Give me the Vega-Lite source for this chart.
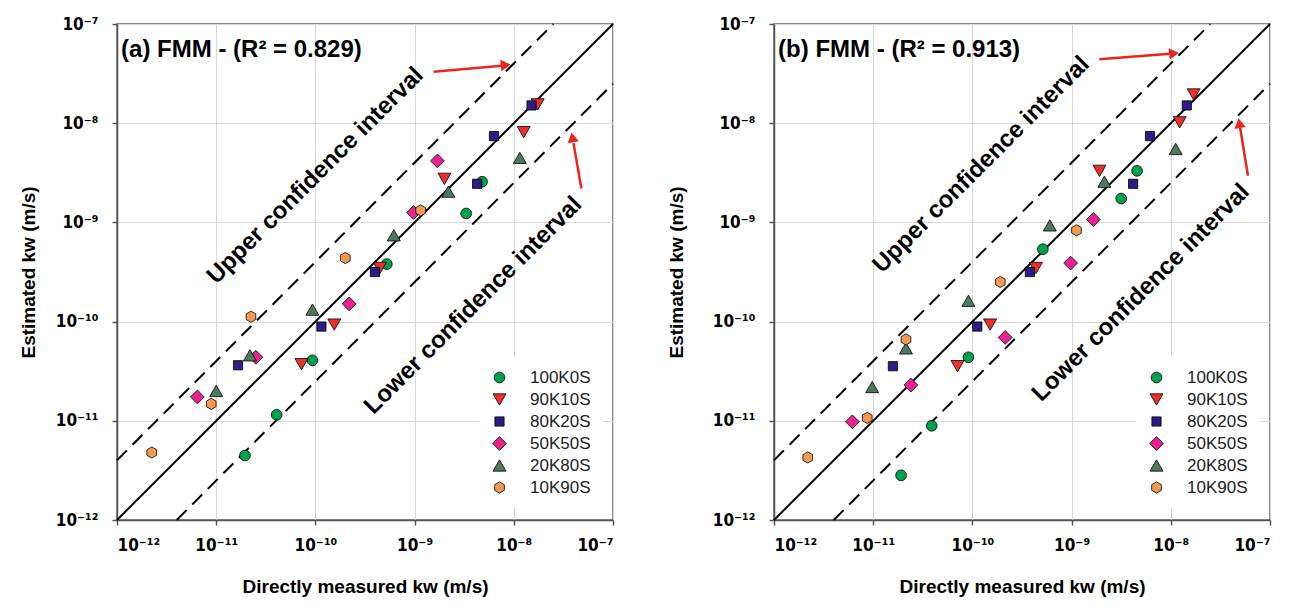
{
  "$schema": "https://vega.github.io/schema/vega-lite/v6.json",
  "background": "white",
  "padding": {"left": 18, "top": 14, "right": 2, "bottom": 2},
  "spacing": 48,
  "datasets": {
    "lines": [
      {"line": "fit", "x": 1e-12, "y": 1e-12}, {"line": "fit", "x": 1e-7, "y": 1e-7},
      {"line": "upper", "x": 1e-12, "y": 4e-12}, {"line": "upper", "x": 2.5e-8, "y": 1e-7},
      {"line": "lower", "x": 4e-12, "y": 1e-12}, {"line": "lower", "x": 1e-7, "y": 2.5e-8}
    ],
    "pa": [
      {"g": "100K0S", "x": 4.79e-9, "y": 2.57e-9},
      {"g": "100K0S", "x": 3.31e-9, "y": 1.23e-9},
      {"g": "100K0S", "x": 5.25e-10, "y": 3.80e-10},
      {"g": "100K0S", "x": 9.33e-11, "y": 4.07e-11},
      {"g": "100K0S", "x": 4.07e-11, "y": 1.15e-11},
      {"g": "100K0S", "x": 1.95e-11, "y": 4.47e-12},
      {"g": "90K10S", "x": 1.74e-8, "y": 1.55e-8},
      {"g": "90K10S", "x": 1.26e-8, "y": 8.13e-9},
      {"g": "90K10S", "x": 2.00e-9, "y": 2.75e-9},
      {"g": "90K10S", "x": 4.47e-10, "y": 3.47e-10},
      {"g": "90K10S", "x": 1.55e-10, "y": 9.33e-11},
      {"g": "90K10S", "x": 7.24e-11, "y": 3.72e-11},
      {"g": "80K20S", "x": 1.51e-8, "y": 1.51e-8},
      {"g": "80K20S", "x": 6.31e-9, "y": 7.41e-9},
      {"g": "80K20S", "x": 4.27e-9, "y": 2.45e-9},
      {"g": "80K20S", "x": 3.98e-10, "y": 3.16e-10},
      {"g": "80K20S", "x": 1.15e-10, "y": 8.91e-11},
      {"g": "80K20S", "x": 1.66e-11, "y": 3.63e-11},
      {"g": "50K50S", "x": 1.70e-9, "y": 4.17e-9},
      {"g": "50K50S", "x": 9.77e-10, "y": 1.26e-9},
      {"g": "50K50S", "x": 2.19e-10, "y": 1.51e-10},
      {"g": "50K50S", "x": 2.51e-11, "y": 4.37e-11},
      {"g": "50K50S", "x": 6.46e-12, "y": 1.74e-11},
      {"g": "20K80S", "x": 1.15e-8, "y": 4.47e-9},
      {"g": "20K80S", "x": 2.19e-9, "y": 2.04e-9},
      {"g": "20K80S", "x": 6.17e-10, "y": 7.41e-10},
      {"g": "20K80S", "x": 9.33e-11, "y": 1.32e-10},
      {"g": "20K80S", "x": 2.19e-11, "y": 4.57e-11},
      {"g": "20K80S", "x": 1.0e-11, "y": 2.00e-11},
      {"g": "10K90S", "x": 1.15e-9, "y": 1.32e-9},
      {"g": "10K90S", "x": 2.00e-10, "y": 4.37e-10},
      {"g": "10K90S", "x": 2.24e-11, "y": 1.12e-10},
      {"g": "10K90S", "x": 8.91e-12, "y": 1.48e-11},
      {"g": "10K90S", "x": 2.24e-12, "y": 4.79e-12}
    ],
    "pb": [
      {"g": "100K0S", "x": 4.57e-9, "y": 3.31e-9},
      {"g": "100K0S", "x": 3.16e-9, "y": 1.74e-9},
      {"g": "100K0S", "x": 5.13e-10, "y": 5.37e-10},
      {"g": "100K0S", "x": 9.12e-11, "y": 4.37e-11},
      {"g": "100K0S", "x": 3.89e-11, "y": 8.91e-12},
      {"g": "100K0S", "x": 1.91e-11, "y": 2.82e-12},
      {"g": "90K10S", "x": 1.70e-8, "y": 1.95e-8},
      {"g": "90K10S", "x": 1.23e-8, "y": 1.02e-8},
      {"g": "90K10S", "x": 1.91e-9, "y": 3.31e-9},
      {"g": "90K10S", "x": 4.37e-10, "y": 3.47e-10},
      {"g": "90K10S", "x": 1.51e-10, "y": 9.33e-11},
      {"g": "90K10S", "x": 7.08e-11, "y": 3.55e-11},
      {"g": "80K20S", "x": 1.45e-8, "y": 1.51e-8},
      {"g": "80K20S", "x": 6.17e-9, "y": 7.41e-9},
      {"g": "80K20S", "x": 4.17e-9, "y": 2.45e-9},
      {"g": "80K20S", "x": 3.80e-10, "y": 3.16e-10},
      {"g": "80K20S", "x": 1.12e-10, "y": 8.91e-11},
      {"g": "80K20S", "x": 1.58e-11, "y": 3.55e-11},
      {"g": "50K50S", "x": 1.66e-9, "y": 1.07e-9},
      {"g": "50K50S", "x": 9.77e-10, "y": 3.89e-10},
      {"g": "50K50S", "x": 2.14e-10, "y": 6.92e-11},
      {"g": "50K50S", "x": 2.40e-11, "y": 2.29e-11},
      {"g": "50K50S", "x": 6.17e-12, "y": 9.77e-12},
      {"g": "20K80S", "x": 1.12e-8, "y": 5.50e-9},
      {"g": "20K80S", "x": 2.14e-9, "y": 2.57e-9},
      {"g": "20K80S", "x": 6.03e-10, "y": 9.33e-10},
      {"g": "20K80S", "x": 9.12e-11, "y": 1.62e-10},
      {"g": "20K80S", "x": 2.14e-11, "y": 5.37e-11},
      {"g": "20K80S", "x": 9.77e-12, "y": 2.19e-11},
      {"g": "10K90S", "x": 1.12e-9, "y": 8.32e-10},
      {"g": "10K90S", "x": 1.91e-10, "y": 2.51e-10},
      {"g": "10K90S", "x": 2.14e-11, "y": 6.61e-11},
      {"g": "10K90S", "x": 8.71e-12, "y": 1.07e-11},
      {"g": "10K90S", "x": 2.19e-12, "y": 4.27e-12}
    ],
    "notes_a": [
      {"x": 1.0e-10, "y": 2.95e-9, "t": "Upper confidence interval"},
      {"x": 3.9e-9, "y": 1.45e-10, "t": "Lower confidence interval"}
    ],
    "notes_b": [
      {"x": 1.23e-10, "y": 3.8e-9, "t": "Upper confidence interval"},
      {"x": 5.0e-9, "y": 1.95e-10, "t": "Lower confidence interval"}
    ],
    "title_a": [{"x": 1.1e-12, "y": 5.5e-8, "t": "(a) FMM - (R² = 0.829)"}],
    "title_b": [{"x": 1.1e-12, "y": 5.5e-8, "t": "(b) FMM - (R² = 0.913)"}],
    "arrows_a": [
      {"x": 1.55e-9, "y": 3.3e-8, "x2": 7.5e-9, "y2": 3.8e-8},
      {"x": 4.8e-8, "y": 2.2e-9, "x2": 4.0e-8, "y2": 6.3e-9}
    ],
    "heads_a": [
      {"x": 8.3e-9, "y": 3.85e-8, "k": "right"},
      {"x": 3.9e-8, "y": 7.2e-9, "k": "up"}
    ],
    "arrows_b": [
      {"x": 1.9e-9, "y": 4.4e-8, "x2": 9.8e-9, "y2": 5.0e-8},
      {"x": 6.0e-8, "y": 2.95e-9, "x2": 5.0e-8, "y2": 9.0e-9}
    ],
    "heads_b": [
      {"x": 1.08e-8, "y": 5.05e-8, "k": "right"},
      {"x": 4.9e-8, "y": 1.0e-8, "k": "up"}
    ]
  },
  "hconcat": [
    {
      "width": 496,
      "height": 496,
      "encoding": {
        "x": {"field": "x", "type": "quantitative", "scale": {"type": "log", "domain": [1e-12, 1e-7], "nice": false}, "axis": {"title": "Directly measured kw (m/s)", "values": [1e-12, 1e-11, 1e-10, 1e-9, 1e-8, 1e-7], "labelExpr": "datum.value < 5e-12 ? '10⁻¹²' : datum.value < 5e-11 ? '10⁻¹¹' : datum.value < 5e-10 ? '10⁻¹⁰' : datum.value < 5e-9 ? '10⁻⁹' : datum.value < 5e-8 ? '10⁻⁸' : '10⁻⁷'", "labelPadding": 12, "titlePadding": 24}},
        "y": {"field": "y", "type": "quantitative", "scale": {"type": "log", "domain": [1e-12, 1e-7], "nice": false}, "axis": {"title": "Estimated kw (m/s)", "values": [1e-12, 1e-11, 1e-10, 1e-9, 1e-8, 1e-7], "labelExpr": "datum.value < 5e-12 ? '10⁻¹²' : datum.value < 5e-11 ? '10⁻¹¹' : datum.value < 5e-10 ? '10⁻¹⁰' : datum.value < 5e-9 ? '10⁻⁹' : datum.value < 5e-8 ? '10⁻⁸' : '10⁻⁷'", "labelPadding": 14, "titlePadding": 17}}
      },
      "layer": [
        {
          "data": {"name": "lines"},
          "mark": {"type": "line", "color": "black", "strokeWidth": 2},
          "encoding": {
            "detail": {"field": "line"},
            "strokeDash": {"field": "line", "type": "nominal", "scale": {"domain": ["fit", "upper", "lower"], "range": [[1, 0], [14, 8], [14, 8]]}, "legend": null}
          }
        },
        {
          "data": {"name": "arrows_a"},
          "mark": {"type": "rule", "color": "#e8261f", "strokeWidth": 2.5},
          "encoding": {"x2": {"field": "x2"}, "y2": {"field": "y2"}}
        },
        {
          "data": {"name": "heads_a"},
          "transform": [{"filter": "datum.k == 'right'"}],
          "mark": {"type": "point", "shape": "triangle-right", "filled": true, "color": "#e8261f", "size": 130, "opacity": 1, "angle": -5},
          "encoding": {}
        },
        {
          "data": {"name": "heads_a"},
          "transform": [{"filter": "datum.k == 'up'"}],
          "mark": {"type": "point", "shape": "triangle-up", "filled": true, "color": "#e8261f", "size": 130, "opacity": 1, "angle": -10},
          "encoding": {}
        },
        {
          "data": {"name": "notes_a"},
          "mark": {"type": "text", "angle": -45, "font": "Liberation Sans", "fontWeight": "bold", "fontSize": 24, "color": "black", "align": "center", "baseline": "middle"},
          "encoding": {"text": {"field": "t"}}
        },
        {
          "data": {"name": "title_a"},
          "mark": {"type": "text", "font": "Liberation Sans", "fontWeight": "bold", "fontSize": 24, "color": "black", "align": "left", "baseline": "middle"},
          "encoding": {"text": {"field": "t"}}
        },
        {
          "data": {"name": "pa"},
          "mark": {"type": "point", "filled": true, "opacity": 1, "stroke": "black", "strokeWidth": 0.8},
          "encoding": {
            "color": {"field": "g", "type": "nominal", "scale": {"domain": ["100K0S", "90K10S", "80K20S", "50K50S", "20K80S", "10K90S"], "range": ["#00a14b", "#e8322b", "#2e1c82", "#e6238e", "#4d7a5e", "#f49a55"]}, "legend": {"title": null, "orient": "none", "legendX": 362, "legendY": 333, "encode": {"symbols": {"update": {"stroke": {"value": "black"}, "strokeWidth": {"value": 0.8}}}}}},
            "shape": {"field": "g", "type": "nominal", "scale": {"domain": ["100K0S", "90K10S", "80K20S", "50K50S", "20K80S", "10K90S"], "range": ["circle", "triangle-down", "square", "diamond", "triangle-up", "M0,-1L0.866,-0.5L0.866,0.5L0,1L-0.866,0.5L-0.866,-0.5Z"]}, "legend": {"title": null, "orient": "none", "legendX": 362, "legendY": 333, "encode": {"symbols": {"update": {"stroke": {"value": "black"}, "strokeWidth": {"value": 0.8}}}}}},
            "size": {"field": "g", "type": "nominal", "scale": {"type": "ordinal", "domain": ["100K0S", "90K10S", "80K20S", "50K50S", "20K80S", "10K90S"], "range": [115, 170, 85, 190, 170, 125]}, "legend": null}
          }
        }
      ]
    },
    {
      "width": 496,
      "height": 496,
      "encoding": {
        "x": {"field": "x", "type": "quantitative", "scale": {"type": "log", "domain": [1e-12, 1e-7], "nice": false}, "axis": {"title": "Directly measured kw (m/s)", "values": [1e-12, 1e-11, 1e-10, 1e-9, 1e-8, 1e-7], "labelExpr": "datum.value < 5e-12 ? '10⁻¹²' : datum.value < 5e-11 ? '10⁻¹¹' : datum.value < 5e-10 ? '10⁻¹⁰' : datum.value < 5e-9 ? '10⁻⁹' : datum.value < 5e-8 ? '10⁻⁸' : '10⁻⁷'", "labelPadding": 12, "titlePadding": 24}},
        "y": {"field": "y", "type": "quantitative", "scale": {"type": "log", "domain": [1e-12, 1e-7], "nice": false}, "axis": {"title": "Estimated kw (m/s)", "values": [1e-12, 1e-11, 1e-10, 1e-9, 1e-8, 1e-7], "labelExpr": "datum.value < 5e-12 ? '10⁻¹²' : datum.value < 5e-11 ? '10⁻¹¹' : datum.value < 5e-10 ? '10⁻¹⁰' : datum.value < 5e-9 ? '10⁻⁹' : datum.value < 5e-8 ? '10⁻⁸' : '10⁻⁷'", "labelPadding": 14, "titlePadding": 26}}
      },
      "layer": [
        {
          "data": {"name": "lines"},
          "mark": {"type": "line", "color": "black", "strokeWidth": 2},
          "encoding": {
            "detail": {"field": "line"},
            "strokeDash": {"field": "line", "type": "nominal", "scale": {"domain": ["fit", "upper", "lower"], "range": [[1, 0], [14, 8], [14, 8]]}, "legend": null}
          }
        },
        {
          "data": {"name": "arrows_b"},
          "mark": {"type": "rule", "color": "#e8261f", "strokeWidth": 2.5},
          "encoding": {"x2": {"field": "x2"}, "y2": {"field": "y2"}}
        },
        {
          "data": {"name": "heads_b"},
          "transform": [{"filter": "datum.k == 'right'"}],
          "mark": {"type": "point", "shape": "triangle-right", "filled": true, "color": "#e8261f", "size": 130, "opacity": 1, "angle": -5},
          "encoding": {}
        },
        {
          "data": {"name": "heads_b"},
          "transform": [{"filter": "datum.k == 'up'"}],
          "mark": {"type": "point", "shape": "triangle-up", "filled": true, "color": "#e8261f", "size": 130, "opacity": 1, "angle": -10},
          "encoding": {}
        },
        {
          "data": {"name": "notes_b"},
          "mark": {"type": "text", "angle": -45, "font": "Liberation Sans", "fontWeight": "bold", "fontSize": 24, "color": "black", "align": "center", "baseline": "middle"},
          "encoding": {"text": {"field": "t"}}
        },
        {
          "data": {"name": "title_b"},
          "mark": {"type": "text", "font": "Liberation Sans", "fontWeight": "bold", "fontSize": 24, "color": "black", "align": "left", "baseline": "middle"},
          "encoding": {"text": {"field": "t"}}
        },
        {
          "data": {"name": "pb"},
          "mark": {"type": "point", "filled": true, "opacity": 1, "stroke": "black", "strokeWidth": 0.8},
          "encoding": {
            "color": {"field": "g", "type": "nominal", "scale": {"domain": ["100K0S", "90K10S", "80K20S", "50K50S", "20K80S", "10K90S"], "range": ["#00a14b", "#e8322b", "#2e1c82", "#e6238e", "#4d7a5e", "#f49a55"]}, "legend": {"title": null, "orient": "none", "legendX": 362, "legendY": 333, "encode": {"symbols": {"update": {"stroke": {"value": "black"}, "strokeWidth": {"value": 0.8}}}}}},
            "shape": {"field": "g", "type": "nominal", "scale": {"domain": ["100K0S", "90K10S", "80K20S", "50K50S", "20K80S", "10K90S"], "range": ["circle", "triangle-down", "square", "diamond", "triangle-up", "M0,-1L0.866,-0.5L0.866,0.5L0,1L-0.866,0.5L-0.866,-0.5Z"]}, "legend": {"title": null, "orient": "none", "legendX": 362, "legendY": 333, "encode": {"symbols": {"update": {"stroke": {"value": "black"}, "strokeWidth": {"value": 0.8}}}}}},
            "size": {"field": "g", "type": "nominal", "scale": {"type": "ordinal", "domain": ["100K0S", "90K10S", "80K20S", "50K50S", "20K80S", "10K90S"], "range": [115, 170, 85, 190, 170, 125]}, "legend": null}
          }
        }
      ]
    }
  ],
  "resolve": {"scale": {"color": "independent", "shape": "independent", "size": "independent"}, "legend": {"color": "independent", "shape": "independent"}},
  "config": {
    "view": {"stroke": "#666", "strokeWidth": 1.5},
    "axis": {
      "labelFont": "DejaVu Sans Condensed", "labelFontWeight": "bold", "labelFontSize": 17, "labelColor": "black",
      "titleFont": "Liberation Sans", "titleFontWeight": "bold", "titleFontSize": 19, "titleColor": "black",
      "grid": true, "gridColor": "#d9d9d9", "gridWidth": 1,
      "domainColor": "#555", "domainWidth": 1.5, "tickColor": "#555", "tickSize": 5, "tickWidth": 1.5
    },
    "legend": {
      "labelFont": "Liberation Sans", "labelFontSize": 17, "labelColor": "#222",
      "fillColor": "white", "padding": 12, "rowPadding": 4, "labelOffset": 22,
      "symbolSize": 80, "symbolStrokeColor": "black", "symbolStrokeWidth": 0.8, "symbolOpacity": 1
    }
  }
}
